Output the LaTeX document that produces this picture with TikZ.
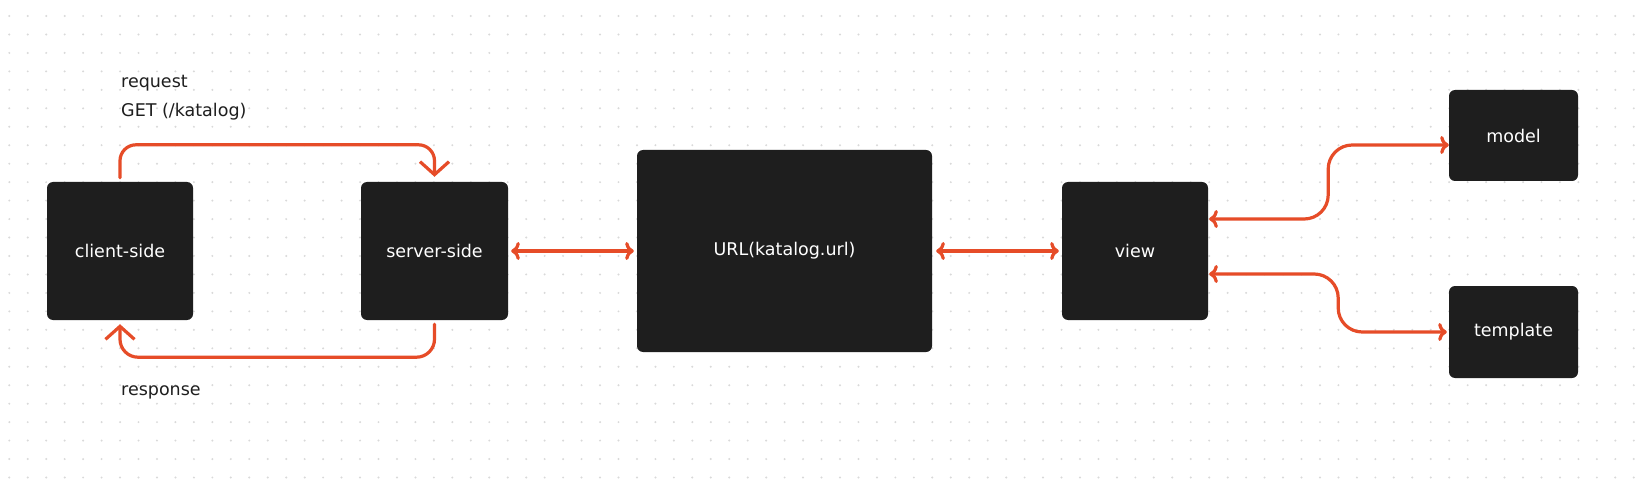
\documentclass[tikz,border=0pt]{standalone}
\usepackage{fontspec}
\setmainfont{DejaVu Sans}
\usetikzlibrary{arrows.meta}
\definecolor{boxfill}{HTML}{1E1E1E}
\definecolor{linkc}{HTML}{E64C28}
\definecolor{dotc}{HTML}{D9D9D9}
\begin{document}
\begin{tikzpicture}[x=1pt,y=-1pt,
			box/.style={fill=boxfill, rounded corners=6pt, text=white, font=\fontsize{17.5}{20}\selectfont, inner sep=0pt},
			link/.style={draw=linkc, line width=3.2pt, line cap=round, line join=round, rounded corners=24pt,
				arrows={-Straight Barb[length=13pt,width=29pt]}},
			note/.style={anchor=mid west, text=boxfill, font=\fontsize{17.5}{20}\selectfont, inner sep=0pt}]
			\useasboundingbox (0,0) rectangle (1648,494);
			\fill[white] (0,0) rectangle (1648,494);
			% dot grid
			\foreach \i in {0,...,88}
				\foreach \j in {0,...,25}
					\fill[dotc] (9.3+18.46*\i, 16+18.46*\j) circle (1.1pt);
			% blocks
			\node[box, minimum width=146pt, minimum height=138pt] (client) at (120,251) {client-side};
			\node[box, minimum width=147pt, minimum height=138pt] (server) at (434.5,251) {server-side};
			\node[box, minimum width=295pt, minimum height=202pt] (url) at (784.5,251) {URL(katalog.url)};
			\node[box, minimum width=146pt, minimum height=138pt] (view) at (1135,251) {view};
			\node[box, minimum width=129pt, minimum height=91pt] (model) at (1513.5,135.5) {model};
			\node[box, minimum width=129pt, minimum height=92pt] (template) at (1513.5,332) {template};
			% labels
			\node[note] (request) at (121,85) {request};
			\node[note] (get) at (121,113.5) {GET (/katalog)};
			\node[note] (response) at (121,393) {response};
			% connectors
			\draw[link, rounded corners=16pt] ([yshift=4pt]client.north) -- ++(0,-33) -| ([yshift=5pt]server.north);
			\draw[link, rounded corners=18pt] ([yshift=-4pt]server.south) -- ++(0,33) -| ([yshift=-4pt]client.south);
			\draw[link, <->, shorten <=3pt, shorten >=3pt] (server.east) -- (url.west);
			\draw[link, <->, shorten <=4pt, shorten >=3pt] (url.east) -- (view.west);
			\draw[link, <->, shorten <=1pt] ([yshift=32pt]view.east) -- ++(120,0) |- ([yshift=-9.5pt]model.west);
			\draw[link, <->, shorten <=1pt, shorten >=2pt] ([yshift=-23pt]view.east) -- ++(130,0) |- (template.west);
			\end{tikzpicture}
\end{document}
